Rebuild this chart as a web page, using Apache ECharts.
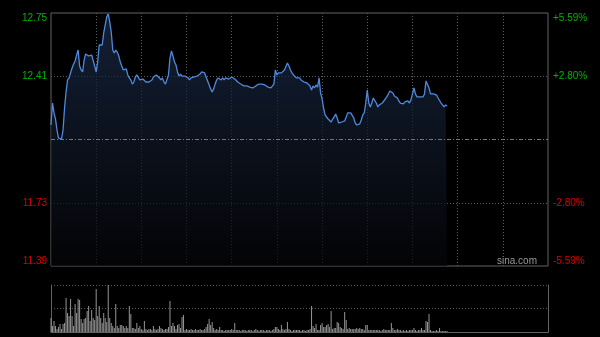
<!DOCTYPE html>
<html>
<head>
<meta charset="utf-8">
<script src="https://cdn.jsdelivr.net/npm/echarts@6/dist/echarts.min.js"></script>
<style>html,body{margin:0;padding:0;background:#000;}#c{width:600px;height:337px;}</style>
</head>
<body>
<div id="c"></div>
<script>
// ---- data ----
const preClose = 12.07;
const priceMin = 11.39;
const priceMax = 12.75;
const priceStep = 0.34;
const leftLabels = ['11.39', '11.73', '', '12.41', '12.75'];
const rightLabels = ['-5.59%', '-2.80%', '', '+2.80%', '+5.59%'];
const totalMinutes = 330; // HK session 09:30-12:00, 13:00-16:00
const prices = [
12.148,12.266,12.213,12.180,12.121,12.078,12.073,12.073,12.121,12.239,
12.325,12.390,12.401,12.428,12.454,12.476,12.492,12.524,12.551,12.465,
12.444,12.433,12.497,12.530,12.535,12.519,12.513,12.524,12.524,12.465,
12.433,12.487,12.578,12.583,12.578,12.643,12.686,12.729,12.745,12.702,
12.648,12.551,12.535,12.551,12.540,12.519,12.487,12.465,12.444,12.438,
12.449,12.417,12.401,12.390,12.368,12.379,12.406,12.417,12.411,12.390,
12.385,12.395,12.395,12.379,12.374,12.379,12.385,12.390,12.406,12.411,
12.417,12.422,12.401,12.390,12.401,12.379,12.368,12.374,12.417,12.508,
12.546,12.519,12.487,12.470,12.433,12.411,12.422,12.411,12.406,12.411,
12.406,12.401,12.390,12.401,12.401,12.406,12.411,12.411,12.417,12.422,
12.433,12.433,12.428,12.428,12.385,12.363,12.342,12.325,12.342,12.368,
12.390,12.401,12.395,12.390,12.401,12.390,12.401,12.406,12.395,12.395,
12.406,12.406,12.395,12.385,12.379,12.379,12.368,12.368,12.358,12.352,
12.358,12.352,12.352,12.352,12.347,12.352,12.358,12.368,12.368,12.368,
12.368,12.368,12.363,12.358,12.352,12.352,12.347,12.347,12.368,12.444,
12.417,12.428,12.433,12.428,12.438,12.444,12.454,12.481,12.465,12.444,
12.428,12.417,12.411,12.401,12.401,12.401,12.390,12.390,12.379,12.374,
12.374,12.368,12.358,12.336,12.358,12.347,12.363,12.352,12.401,12.320,
12.288,12.239,12.202,12.191,12.180,12.170,12.164,12.180,12.191,12.207,
12.186,12.159,12.154,12.164,12.159,12.170,12.191,12.213,12.213,12.213,
12.207,12.186,12.159,12.148,12.143,12.154,12.175,12.202,12.213,12.266,
12.336,12.266,12.245,12.266,12.293,12.293,12.266,12.245,12.256,12.261,
12.266,12.277,12.288,12.299,12.315,12.331,12.336,12.320,12.304,12.299,
12.293,12.277,12.266,12.261,12.261,12.272,12.272,12.277,12.266,12.283,
12.315,12.347,12.315,12.299,12.304,12.299,12.304,12.299,12.315,12.385,
12.379,12.347,12.315,12.320,12.315,12.315,12.309,12.293,12.283,12.266,
12.256,12.245,12.256,12.250
];
const volumes = [
14,6,11,6,3,5,8,3,8,9,
34,19,16,33,16,6,28,19,33,32,
13,9,13,14,21,26,11,22,14,12,
43,16,26,14,9,19,14,10,47,14,
9,6,4,28,6,4,7,7,6,4,
6,4,26,18,4,4,3,9,4,6,
3,2,11,3,2,3,3,2,6,3,
2,3,6,4,3,2,3,3,5,31,
6,9,6,3,7,8,4,15,17,2,
3,2,2,3,2,2,3,2,2,3,
2,2,3,5,8,13,7,10,4,2,
3,2,5,2,2,1,2,2,2,2,
3,2,9,2,2,2,1,2,2,2,
1,2,2,2,1,2,3,2,1,2,
2,2,1,2,2,2,1,2,3,5,
5,3,2,7,3,2,3,10,3,2,
1,2,2,2,2,2,1,2,2,1,
2,2,3,26,6,4,8,2,2,7,
9,5,5,7,8,5,21,3,4,4,
10,9,5,4,3,20,12,3,4,3,
3,3,3,4,3,4,3,3,2,7,
7,2,2,2,2,2,2,2,2,1,
2,3,2,2,2,2,9,4,2,2,
3,2,2,1,2,1,2,1,2,2,
2,4,2,1,2,2,4,2,2,11,
10,18,2,1,1,1,2,1,4,1,
1,1,1,1
];

// ---- chart ----
const upColor = '#00b000';
const downColor = '#d80000';
const gridLine = '#5c5c5c';
const borderCol = '#626262';
const volMax = Math.max.apply(null, volumes);

const chart = echarts.init(document.getElementById('c'), null, {renderer: 'canvas'});
const priceData = prices.map((p, i) => [i, p]);
const volData = volumes.map((v, i) => [i, v]);

chart.setOption({
  backgroundColor: '#000',
  animation: false,
  grid: [
    {left: 51, top: 13, width: 497, height: 253, show: true, borderColor: borderCol, borderWidth: 1, backgroundColor: 'transparent'},
    {left: 51, top: 285, width: 497, height: 47, show: false}
  ],
  xAxis: [
    {type: 'value', gridIndex: 0, min: 0, max: totalMinutes, interval: 30,
      axisLine: {show: false}, axisTick: {show: false}, axisLabel: {show: false},
      splitLine: {show: true, showMinLine: false, showMaxLine: false, lineStyle: {color: gridLine, type: [1, 2], width: 1}}},
    {type: 'value', gridIndex: 1, min: 0, max: totalMinutes, interval: 30,
      axisLine: {show: true, lineStyle: {color: borderCol}}, axisTick: {show: false}, axisLabel: {show: false},
      splitLine: {show: false}}
  ],
  yAxis: [
    {type: 'value', gridIndex: 0, min: priceMin, max: priceMax, interval: priceStep, position: 'left',
      axisLine: {show: false}, axisTick: {show: false},
      axisLabel: {show: true, margin: 4, fontFamily: 'Liberation Sans, Arial, sans-serif', fontSize: 10,
        verticalAlignMinLabel: 'bottom', verticalAlignMaxLabel: 'top',
        formatter: (v, i) => leftLabels[i],
        color: (v, i) => (Number(v) > preClose ? upColor : downColor)},
      splitLine: {show: true, showMinLine: false, showMaxLine: false, lineStyle: {color: gridLine, type: [1, 2]}}},
    {type: 'value', gridIndex: 0, min: priceMin, max: priceMax, interval: priceStep, position: 'right',
      axisLine: {show: false}, axisTick: {show: false},
      axisLabel: {show: true, margin: 5, fontFamily: 'Liberation Sans, Arial, sans-serif', fontSize: 10,
        verticalAlignMinLabel: 'bottom', verticalAlignMaxLabel: 'top',
        formatter: (v, i) => rightLabels[i],
        color: (v, i) => (Number(v) > preClose ? upColor : downColor)},
      splitLine: {show: false}},
    {type: 'value', gridIndex: 1, min: 0, max: volMax, interval: volMax / 2, position: 'left',
      axisLine: {show: true, lineStyle: {color: borderCol}}, axisTick: {show: false}, axisLabel: {show: false},
      splitLine: {show: true, showMinLine: false, lineStyle: {color: gridLine, type: [1, 2]}}},
    {type: 'value', gridIndex: 1, min: 0, max: volMax, interval: volMax / 2, position: 'right',
      axisLine: {show: true, lineStyle: {color: borderCol}}, axisTick: {show: false}, axisLabel: {show: false},
      splitLine: {show: false}}
  ],
  graphic: [
    {type: 'text', right: 63, top: 256, style: {text: 'sina.com', fill: '#9a9a9a', font: '10px "Liberation Sans", Arial, sans-serif'}}
  ],
  series: [
    {type: 'line', xAxisIndex: 0, yAxisIndex: 0, data: priceData, showSymbol: false, symbol: 'none',
      lineStyle: {color: '#5089dc', width: 1.3},
      areaStyle: {origin: 'start', color: new echarts.graphic.LinearGradient(0, 0, 0, 1, [
        {offset: 0, color: '#1b2d4c'}, {offset: 1, color: '#050507'}])},
      markLine: {silent: true, symbol: 'none', label: {show: false},
        lineStyle: {color: '#777', type: [4, 2, 1, 2], width: 1},
        data: [{yAxis: preClose}]},
      z: 3},
    {type: 'bar', xAxisIndex: 1, yAxisIndex: 2, data: volData, barWidth: 1,
      itemStyle: {color: '#969696'}}
  ]
});
</script>
</body>
</html>
